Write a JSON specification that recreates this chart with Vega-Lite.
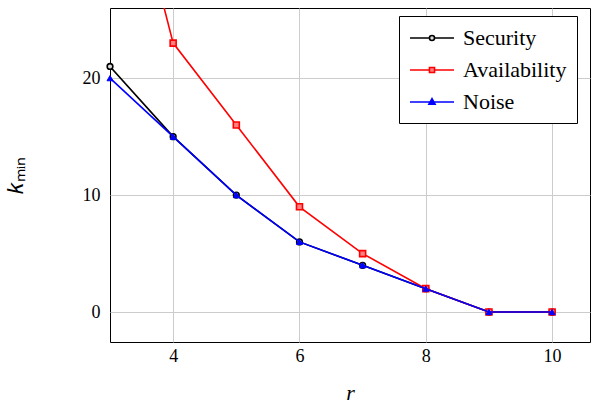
{
  "$schema": "https://vega.github.io/schema/vega-lite/v6.json",
  "width": 480,
  "height": 334,
  "autosize": {"type": "none"},
  "padding": {"left": 110, "top": 8, "right": 2, "bottom": 66},
  "background": "white",
  "config": {
    "view": {"stroke": "black", "strokeWidth": 1},
    "font": "Liberation Serif",
    "axis": {"labelFont": "Liberation Serif", "titleFont": "Liberation Serif", "labelColor": "black", "titleColor": "black", "gridColor": "#cccccc", "gridWidth": 1, "domain": false, "ticks": false}
  },
  "data": {
    "values": [
      {"series": "Security", "r": 3, "k": 21},
      {"series": "Security", "r": 4, "k": 15},
      {"series": "Security", "r": 5, "k": 10},
      {"series": "Security", "r": 6, "k": 6},
      {"series": "Security", "r": 7, "k": 4},
      {"series": "Security", "r": 8, "k": 2},
      {"series": "Security", "r": 9, "k": 0},
      {"series": "Security", "r": 10, "k": 0},
      {"series": "Availability", "r": 3, "k": 44},
      {"series": "Availability", "r": 4, "k": 23},
      {"series": "Availability", "r": 5, "k": 16},
      {"series": "Availability", "r": 6, "k": 9},
      {"series": "Availability", "r": 7, "k": 5},
      {"series": "Availability", "r": 8, "k": 2},
      {"series": "Availability", "r": 9, "k": 0},
      {"series": "Availability", "r": 10, "k": 0},
      {"series": "Noise", "r": 3, "k": 20},
      {"series": "Noise", "r": 4, "k": 15},
      {"series": "Noise", "r": 5, "k": 10},
      {"series": "Noise", "r": 6, "k": 6},
      {"series": "Noise", "r": 7, "k": 4},
      {"series": "Noise", "r": 8, "k": 2},
      {"series": "Noise", "r": 9, "k": 0},
      {"series": "Noise", "r": 10, "k": 0}
    ]
  },
  "encoding": {
    "x": {
      "field": "r", "type": "quantitative",
      "scale": {"domain": [3, 10.6], "nice": false, "zero": false},
      "axis": {"values": [4, 6, 8, 10], "title": "r", "titleFontStyle": "italic", "titleFontWeight": "normal", "titleFontSize": 22, "labelFontSize": 18, "labelPadding": 5, "titlePadding": 17, "grid": true}
    },
    "y": {
      "field": "k", "type": "quantitative",
      "scale": {"domain": [-2.56, 26], "nice": false, "zero": false},
      "axis": {"values": [0, 10, 20], "title": "𝑘ₘᵢₙ", "titleFontWeight": "normal", "titleFontSize": 22, "labelFontSize": 18, "labelPadding": 10, "titlePadding": 55, "grid": true}
    }
  },
  "layer": [
    {
      "transform": [{"filter": "datum.series === 'Security'"}],
      "mark": {"type": "line", "clip": true, "strokeWidth": 1.6},
      "encoding": {
        "color": {
          "field": "series", "type": "nominal",
          "scale": {"domain": ["Security", "Availability", "Noise"], "range": ["black", "red", "blue"]},
          "legend": {
            "title": null, "orient": "none", "legendX": 289, "legendY": 8,
            "strokeColor": "black", "fillColor": "white", "padding": 10,
            "labelFont": "Liberation Serif", "labelFontSize": 22, "labelColor": "black",
            "symbolSize": 484, "symbolStrokeWidth": 1.6, "labelOffset": 30, "rowPadding": 9,
            "cornerRadius": 0,
            "encode": {
              "symbols": {
                "update": {
                  "shape": {"signal": "datum.value === 'Security' ? 'M-1,0H0.77M1.23,0H3M1.23,0A0.23,0.23 0 1,1 0.77,0A0.23,0.23 0 1,1 1.23,0Z' : datum.value === 'Availability' ? 'M-1,0H0.77M1.23,0H3M0.77,-0.23H1.23V0.23H0.77Z' : 'M-1,0H3M1,-0.3L1.28,0.2H0.72Z'"},
                  "fill": {"signal": "datum.value === 'Security' ? '#dddddd' : datum.value === 'Availability' ? '#ff8080' : 'blue'"},
                  "stroke": {"signal": "datum.value === 'Security' ? 'black' : datum.value === 'Availability' ? 'red' : 'blue'"},
                  "strokeWidth": {"value": 1.6},
                  "opacity": {"value": 1}
                }
              }
            }
          }
        }
      }
    },
    {
      "transform": [{"filter": "datum.series === 'Security'"}],
      "mark": {"type": "point", "shape": "circle", "size": 32, "filled": false, "fill": "#dddddd", "fillOpacity": 1, "stroke": "black", "strokeWidth": 1.6, "opacity": 1, "clip": false}
    },
    {
      "transform": [{"filter": "datum.series === 'Availability'"}],
      "mark": {"type": "line", "clip": true, "strokeWidth": 1.6},
      "encoding": {"color": {"field": "series", "type": "nominal"}}
    },
    {
      "transform": [{"filter": "datum.series === 'Availability' && datum.k < 26"}],
      "mark": {"type": "point", "shape": "square", "size": 36, "filled": false, "fill": "#ff8080", "fillOpacity": 1, "stroke": "red", "strokeWidth": 1.6, "opacity": 1, "clip": false}
    },
    {
      "transform": [{"filter": "datum.series === 'Noise'"}],
      "mark": {"type": "line", "clip": true, "strokeWidth": 1.6},
      "encoding": {"color": {"field": "series", "type": "nominal"}}
    },
    {
      "transform": [{"filter": "datum.series === 'Noise'"}],
      "mark": {"type": "point", "shape": "triangle-up", "size": 36, "filled": true, "fill": "blue", "stroke": "blue", "strokeWidth": 1, "opacity": 1, "clip": false}
    }
  ]
}
